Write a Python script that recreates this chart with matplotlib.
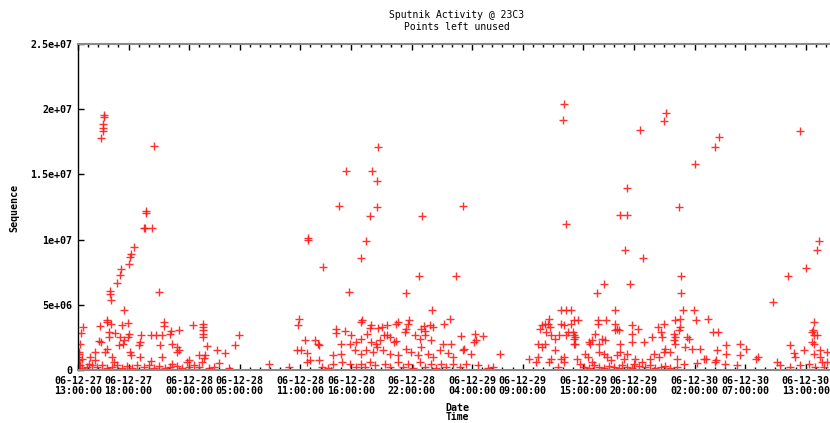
import matplotlib
matplotlib.use("Agg")
import matplotlib.pyplot as plt
from matplotlib.ticker import MultipleLocator, FixedLocator

# ---- data: (hours since 06-12-27 00:00, sequence in millions) ----
peaks_day1 = [(15.54,19.56),(15.54,19.43),(15.44,18.84),(15.44,18.58),(15.44,18.33),(15.27,17.81),
              (20.55,17.18),(19.73,12.19),(19.73,12.02),(19.50,10.91),(19.63,10.91),(20.29,10.89),
              (18.51,9.41),(18.24,8.87),(18.14,8.69),(18.04,8.11),(17.22,7.77),(17.15,7.26),
              (16.89,6.65),(16.19,6.06),(16.19,5.85),(16.23,5.35),(20.98,5.98),(17.55,4.58)]
peaks_day2 = [(42.70,17.12),(39.51,15.28),(42.05,15.28),(42.54,14.52),(38.81,12.60),(42.54,12.52),
              (41.88,11.83),(47.02,11.83),(35.78,10.10),(35.78,9.97),(41.45,9.92),(41.02,8.61),
              (37.23,7.90),(46.75,7.23),(51.08,12.58),(50.38,7.21),(39.83,5.96),(45.41,5.88),
              (48.04,4.60),(34.89,3.89),(34.79,3.47)]
peaks_day3 = [(61.10,20.38),(61.00,19.15),(71.22,19.73),(70.96,19.07),(68.61,18.43),(76.42,17.85),
              (76.03,17.10),(74.09,15.80),(67.33,13.96),(72.47,12.52),(66.67,11.86),(67.37,11.86),
              (61.26,11.22),(67.17,9.23),(68.95,8.59),(72.64,7.23),(65.05,6.57),(67.66,6.57),
              (84.41,18.33),(86.29,9.89),(86.09,9.20),(85.00,7.82),(83.22,7.21),(81.74,5.21),
              (72.64,5.90),(64.38,5.90)]

low_day1 = [(15.90,3.86),(15.90,3.68),(13.46,3.30),(13.33,2.86),(15.21,3.35),(16.26,3.51),(16.69,2.86),
            (17.35,3.43),(17.92,3.60),(18.01,2.78),(17.95,2.53),(16.04,2.91),(16.04,2.53),(17.18,2.53),
            (17.52,2.28),(19.26,2.71),(20.25,2.66),(20.71,2.66),(21.31,2.66),(21.51,3.68),(21.51,3.37),
            (22.23,2.97),(22.13,2.78),(22.96,3.04),(24.34,3.43),(25.39,3.55),(25.39,3.30),(25.39,3.04),
            (25.39,2.78),(25.39,2.53),(28.95,2.66),(13.23,2.02),(15.05,2.20),(15.30,2.15),(15.87,1.63),
            (15.70,1.38),(17.08,1.94),(17.42,2.02),(18.17,1.38),(18.27,1.17),(19.16,2.15),(19.06,1.94),
            (21.08,1.94),(22.30,2.02),(22.79,1.76),(23.02,1.51),(22.79,1.38),(25.76,1.84),(26.75,1.51),
            (27.57,1.33),(28.50,1.94),(13.05,1.38),(13.02,1.00),(14.22,1.00),(14.71,0.74),(16.36,1.00),
            (16.53,0.61),(19.16,1.00),(20.25,0.67),(21.31,1.00),(22.30,0.48),(23.78,0.61),(23.95,0.74),
            (25.00,1.17),(25.43,0.92),(25.53,1.17),(25.26,0.61),(26.92,0.56),(27.90,0.15),(31.92,0.48),
            (33.84,0.23),(34.63,1.51),(35.08,1.51),(35.48,2.28),(35.65,1.33),(35.65,0.61),(36.41,2.28),
            (36.74,2.02),(35.97,0.74),(36.81,0.74),(13.40,0.87),(14.71,1.38),(14.06,0.48),(13.07,1.25),
            (13.20,0.38),(13.10,0.77)]
low_day2 = [(41.12,3.86),(40.96,3.68),(38.55,3.17),(38.55,2.86),(39.38,2.97),(40.03,2.71),(42.01,3.47),
            (41.85,3.22),(42.67,3.22),(43.07,3.30),(43.59,3.43),(44.48,3.55),(44.65,3.68),(45.80,3.81),
            (45.64,3.55),(45.41,3.17),(46.95,3.17),(47.22,3.37),(47.78,3.43),(48.11,3.30),(49.20,3.55),
            (49.76,3.89),(36.83,1.94),(38.98,2.02),(39.87,2.02),(40.52,2.15),(41.02,2.40),(41.61,2.78),
            (42.01,2.15),(42.50,2.02),(42.84,2.28),(43.26,2.66),(43.59,2.66),(43.83,2.53),(44.25,2.15),
            (44.48,2.20),(45.31,2.91),(46.30,2.66),(46.79,2.40),(47.29,2.71),(47.35,2.97),(47.94,2.28),
            (49.10,2.02),(49.92,2.02),(50.85,2.61),(52.16,2.15),(52.39,2.28),(52.29,2.78),(53.05,2.61),
            (38.22,1.17),(38.98,1.25),(40.37,1.51),(41.02,1.25),(41.51,1.51),(42.18,1.38),(42.60,1.76),
            (43.16,1.51),(43.83,1.25),(44.65,1.13),(45.47,1.63),(45.96,1.38),(46.63,1.17),(46.95,1.76),
            (47.62,1.25),(48.11,1.00),(48.77,1.51),(49.59,1.33),(50.09,1.00),(51.08,1.51),(51.24,1.63),
            (51.84,1.25),(54.71,1.25)]
low_day3 = [(60.80,4.58),(61.29,4.58),(61.79,4.58),(59.65,3.93),(59.16,3.55),(59.48,3.55),(58.89,3.43),
            (58.76,3.17),(59.75,3.30),(60.80,3.55),(61.13,3.43),(61.79,3.55),(59.32,2.91),(59.81,2.66),
            (60.20,2.40),(60.64,2.66),(61.29,2.71),(61.46,2.91),(61.96,2.91),(58.49,2.02),(58.89,1.76),
            (59.16,2.02),(60.15,1.51),(57.67,0.87),(58.49,1.00),(58.33,0.61),(59.65,0.61),(59.81,0.87),
            (60.80,0.87),(61.13,0.61),(60.47,0.23),(61.13,1.00),(62.12,2.02),(62.12,2.40),
            (62.45,3.81),(66.18,4.58),(64.43,3.81),(64.43,3.55),(65.25,3.81),(66.18,3.55),(66.34,3.17),
            (66.18,3.04),(66.50,3.04),(67.82,3.43),(68.38,3.17),(67.82,2.78),(64.20,2.78),(63.86,2.28),
            (63.54,2.15),(63.64,2.02),(64.85,2.40),(65.19,2.28),(64.53,2.02),(62.22,2.53),(62.22,2.02),
            (66.67,2.02),(67.82,2.15),(68.98,2.15),(69.80,2.53),(70.69,2.91),(70.79,2.53),(70.36,3.30),
            (70.96,3.55),(71.94,2.78),(72.11,2.53),(71.94,2.28),(72.11,2.02),(72.11,3.81),(72.61,3.89),
            (72.54,3.30),(72.44,3.04),(72.83,4.58),(73.99,4.58),(74.19,3.81),(75.31,3.89),(73.26,2.53),
            (73.43,2.40),(75.83,2.91),(76.33,2.91),(73.10,1.76),(73.75,1.59),(74.59,1.59),(77.16,1.89),
            (77.16,1.25),(78.47,2.02),(78.47,1.17),(79.13,1.63),(76.23,1.51),(76.17,0.74),(74.91,0.82),
            (75.18,0.82),(80.12,0.87),(80.25,1.00)]
low_day4 = [(83.49,1.94),(83.81,1.33),(84.80,1.51),(83.98,1.00),(85.79,3.68),(85.72,3.04),(85.62,2.91),
            (85.79,2.66),(86.12,2.71),(85.62,2.15),(85.79,2.02),(86.45,1.51),(85.79,1.25),(87.11,1.38),
            (86.45,1.00),(86.61,0.61),(87.11,0.61),(62.05,2.66),(62.05,3.81),
            (62.65,0.48),(62.38,0.87),(63.21,1.25),(63.44,1.00),(63.86,0.61),(64.53,1.38),(65.02,1.25),
            (65.35,1.00),(65.74,0.74),(66.34,1.13),(66.67,1.38),(67.00,0.87),(67.33,1.25),(67.99,0.48),
            (68.16,0.87),(68.81,0.61),(69.64,0.87),(69.97,1.25),(70.46,1.00),(70.96,1.38),(71.12,1.63),
            (71.62,1.38),(72.27,0.87),(72.93,0.48),(74.25,0.56),(76.07,0.61),(77.06,0.48),(78.21,0.36),
            (82.16,0.61),(82.50,0.36),(83.49,0.23),(84.48,0.36),(85.30,0.48),(85.96,0.23),(86.78,0.23)]
base_row = [(13.07,0.36),(13.40,0.15),(13.89,0.23),(14.38,0.36),(14.88,0.23),(15.37,0.36),(15.87,0.15),
            (16.36,0.23),(16.86,0.36),(17.35,0.15),(17.85,0.31),(18.34,0.15),(18.84,0.36),(19.50,0.23),
            (19.99,0.36),(20.49,0.15),(20.98,0.31),(21.63,0.15),(22.13,0.23),(22.79,0.31),(23.29,0.15),
            (23.95,0.23),(24.44,0.36),(24.94,0.23),(25.93,0.15),(26.42,0.23),
            (37.13,0.23),(37.73,0.15),(38.22,0.48),(39.11,0.61),(39.87,0.48),(40.52,0.23),(40.96,0.48),
            (41.35,0.23),(41.85,0.61),(42.34,0.36),(43.33,0.48),(43.83,0.23),(44.65,0.61),(45.14,0.23),
            (45.64,0.48),(46.13,0.15),(46.79,0.61),(47.29,0.23),(47.94,0.48),(48.44,0.15),(48.93,0.48),
            (49.43,0.23),(50.09,0.48),(50.75,0.23),(51.40,0.48),(52.56,0.36),(53.55,0.15),(54.04,0.23),
            (63.04,0.23),(63.54,0.15),(64.03,0.36),(64.53,0.23),(65.02,0.15),(65.52,0.31),(66.01,0.23),
            (66.50,0.15),(66.83,0.36),(67.33,0.23),(67.82,0.15),(68.48,0.31),(69.15,0.23),(69.64,0.36),
            (70.13,0.15),(70.69,0.23),(71.12,0.31),(71.62,0.15),(72.27,0.23)]

tick_hours = [13, 18, 24, 29, 35, 40, 46, 52, 57, 63, 68, 74, 79, 85]
tick_labels = ["06-12-27\n13:00:00", "06-12-27\n18:00:00", "06-12-28\n00:00:00", "06-12-28\n05:00:00",
               "06-12-28\n11:00:00", "06-12-28\n16:00:00", "06-12-28\n22:00:00", "06-12-29\n04:00:00",
               "06-12-29\n09:00:00", "06-12-29\n15:00:00", "06-12-29\n20:00:00", "06-12-30\n02:00:00",
               "06-12-30\n07:00:00", "06-12-30\n13:00:00"]
y_ticks = [0, 5e6, 1e7, 1.5e7, 2e7, 2.5e7]
y_tick_labels = ["0", "5e+06", "1e+07", "1.5e+07", "2e+07", "2.5e+07"]

W, H = 830, 423
fig = plt.figure(figsize=(W / 100, H / 100), dpi=100)
ax = fig.add_axes([78 / W, 53 / H, 758 / W, 326 / H])

mono = "DejaVu Sans Mono"
red = "#ff1a1a"
for group in (peaks_day1, peaks_day2, peaks_day3, low_day1, low_day2, low_day3, low_day4, base_row):
    xs = [p[0] for p in group]
    ys = [p[1] * 1e6 for p in group]
    ax.plot(xs, ys, linestyle="none", marker="+", markersize=5.2, markeredgewidth=1.0,
            color=red, alpha=0.9)

ax.set_xlim(13, 88)
ax.set_ylim(0, 2.5e7)

ax.xaxis.set_major_locator(FixedLocator(tick_hours))
ax.set_xticklabels(tick_labels, fontsize=7.2, family=mono, fontweight="bold", linespacing=1.05)
ax.xaxis.set_minor_locator(MultipleLocator(1))
ax.set_yticks(y_ticks)
ax.set_yticklabels(y_tick_labels, fontsize=7.2, family=mono, fontweight="bold")

ax.tick_params(axis="x", which="major", direction="in", length=4, width=1, top=True, pad=4, color="black")
ax.tick_params(axis="x", which="minor", direction="in", length=2.5, width=1, top=True, color="black")
ax.tick_params(axis="y", which="major", direction="in", length=4, width=1, right=True, pad=4, color="black")

for side in ("top", "bottom"):
    ax.spines[side].set_color("#8a8a8a")
    ax.spines[side].set_linewidth(1.5)
ax.spines["left"].set_color("black")
ax.spines["left"].set_linewidth(1.0)
ax.spines["right"].set_color("black")

fig.text(457 / W, 1 - 15 / H, "Sputnik Activity @ 23C3", ha="center", va="center",
         fontsize=7.0, family=mono)
fig.text(457 / W, 1 - 27 / H, "Points left unused", ha="center", va="center",
         fontsize=7.0, family=mono)
fig.text(457 / W, 1 - 408 / H, "Date", ha="center", va="center", fontsize=7.2, family=mono, fontweight="bold")
fig.text(457 / W, 1 - 417 / H, "Time", ha="center", va="center", fontsize=7.0, family=mono, fontweight="bold")
fig.text(14 / W, 1 - 208 / H, "Sequence", ha="center", va="center", rotation=90,
         fontsize=7.2, family=mono, fontweight="bold")

fig.savefig("out.png", dpi=100)
